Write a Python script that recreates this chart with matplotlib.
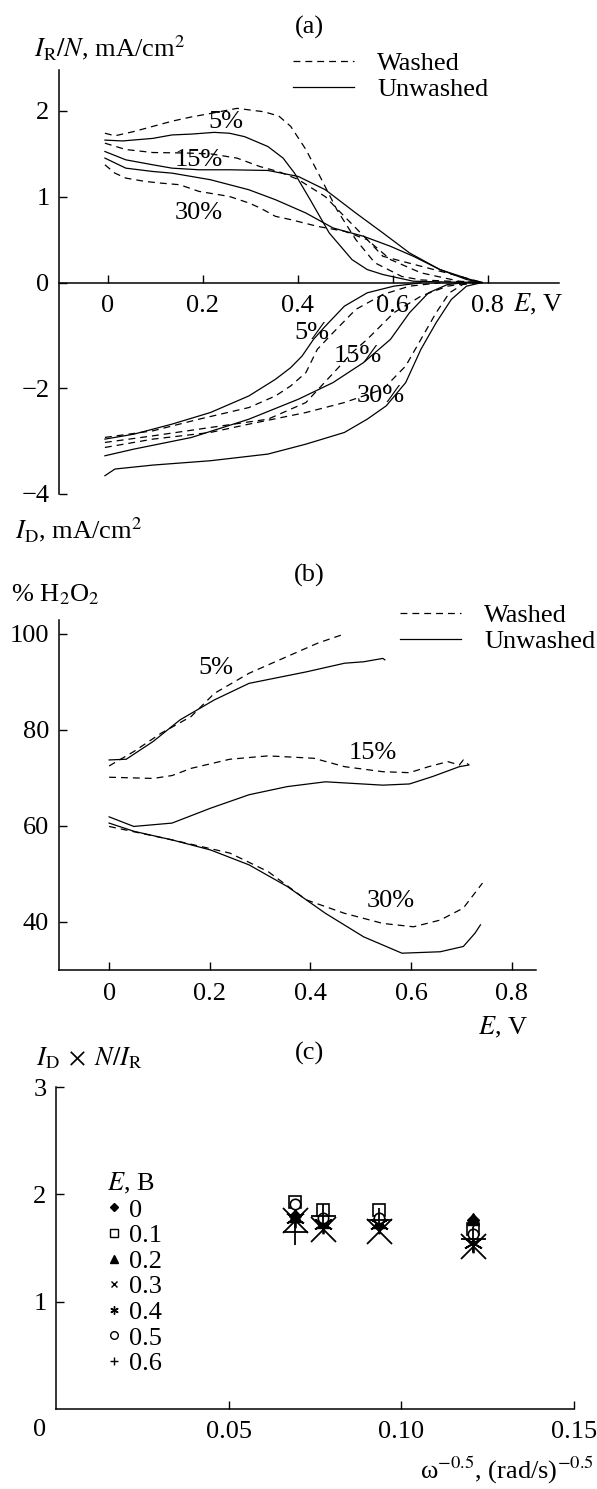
# -*- coding: utf-8 -*-
# RRDE data: ring / disk currents, % H2O2 and ID*N/IR for washed / unwashed catalysts

import numpy as np
import matplotlib
matplotlib.use('Agg')
import matplotlib.pyplot as plt
from matplotlib.lines import Line2D

plt.rcParams['font.family'] = ['Liberation Serif', 'DejaVu Serif']
plt.rcParams['mathtext.fontset'] = 'stix'

#====================================================================
# (a) ring current I_R/N (positive) and disk current I_D (negative), mA/cm2
ring_w5_E = [-0.006, 0.015, 0.055, 0.095, 0.135, 0.176, 0.216, 0.272, 0.329, 0.36, 0.385, 0.417, 0.45, 0.482, 0.522, 0.562, 0.619, 0.659, 0.74, 0.785]
ring_w5_I = [1.74, 1.71, 1.76, 1.82, 1.88, 1.93, 1.97, 2.03, 1.99, 1.94, 1.82, 1.55, 1.20, 0.85, 0.50, 0.23, 0.07, 0.03, 0.01, 0.0]
ring_u5_E = [-0.006, 0.031, 0.095, 0.135, 0.176, 0.224, 0.256, 0.288, 0.337, 0.369, 0.393, 0.426, 0.466, 0.514, 0.546, 0.579, 0.643, 0.72, 0.785]
ring_u5_I = [1.66, 1.65, 1.68, 1.72, 1.73, 1.75, 1.74, 1.70, 1.585, 1.45, 1.275, 0.965, 0.578, 0.267, 0.151, 0.093, 0.015, 0.005, 0.0]
ring_w15_E = [-0.006, 0.038, 0.095, 0.159, 0.216, 0.272, 0.321, 0.361, 0.401, 0.458, 0.498, 0.546, 0.595, 0.659, 0.74, 0.785]
ring_w15_I = [1.624, 1.55, 1.515, 1.51, 1.50, 1.45, 1.35, 1.29, 1.20, 1.00, 0.77, 0.50, 0.267, 0.113, 0.015, 0.0]
ring_u15_E = [-0.006, 0.038, 0.095, 0.135, 0.192, 0.256, 0.337, 0.401, 0.458, 0.522, 0.579, 0.635, 0.699, 0.763, 0.788]
ring_u15_I = [1.527, 1.43, 1.372, 1.333, 1.314, 1.314, 1.306, 1.236, 1.081, 0.81, 0.578, 0.345, 0.151, 0.035, 0.0]
ring_u30_E = [-0.006, 0.038, 0.095, 0.135, 0.216, 0.297, 0.353, 0.417, 0.474, 0.538, 0.595, 0.643, 0.699, 0.755, 0.788]
ring_u30_I = [1.45, 1.333, 1.294, 1.275, 1.198, 1.081, 0.965, 0.81, 0.636, 0.539, 0.422, 0.306, 0.151, 0.035, 0.0]
ring_w30_E = [-0.006, 0.015, 0.038, 0.079, 0.111, 0.151, 0.192, 0.256, 0.297, 0.321, 0.353, 0.385, 0.441, 0.498, 0.546, 0.579, 0.659, 0.74, 0.788]
ring_w30_I = [1.372, 1.275, 1.217, 1.178, 1.159, 1.14, 1.062, 1.003, 0.927, 0.868, 0.771, 0.733, 0.655, 0.597, 0.50, 0.306, 0.19, 0.073, 0.0]

disk_u5_E = [-0.006, 0.055, 0.135, 0.216, 0.297, 0.353, 0.385, 0.409, 0.433, 0.458, 0.498, 0.546, 0.602, 0.659]
disk_u5_I = [-2.962, -2.868, -2.679, -2.459, -2.145, -1.83, -1.61, -1.39, -1.075, -0.824, -0.447, -0.195, -0.069, -0.006]
disk_w5_E = [-0.006, 0.095, 0.192, 0.297, 0.353, 0.385, 0.417, 0.441, 0.474, 0.522, 0.579, 0.635, 0.699]
disk_w5_I = [-2.93, -2.805, -2.585, -2.365, -2.145, -1.956, -1.704, -1.264, -0.95, -0.509, -0.226, -0.069, -0.006]
disk_w15_E = [-0.006, 0.095, 0.216, 0.337, 0.417, 0.482, 0.514, 0.546, 0.602, 0.659, 0.715, 0.764]
disk_w15_I = [-3.025, -2.9, -2.742, -2.585, -2.27, -1.642, -1.327, -1.075, -0.572, -0.258, -0.069, -0.006]
disk_u15_E = [-0.006, 0.055, 0.176, 0.297, 0.401, 0.474, 0.538, 0.595, 0.635, 0.675, 0.715, 0.755]
disk_u15_I = [-3.277, -3.151, -2.931, -2.585, -2.208, -1.893, -1.516, -1.075, -0.572, -0.195, -0.038, 0.0]
disk_w30_E = [-0.006, 0.095, 0.216, 0.297, 0.417, 0.498, 0.579, 0.627, 0.659, 0.691, 0.719, 0.747, 0.779]
disk_w30_I = [-3.12, -2.962, -2.836, -2.679, -2.459, -2.27, -2.019, -1.579, -1.075, -0.572, -0.195, -0.038, 0.0]
disk_u30_E = [-0.006, 0.015, 0.095, 0.216, 0.337, 0.417, 0.498, 0.546, 0.586, 0.627, 0.659, 0.691, 0.723, 0.755, 0.788]
disk_u30_I = [-3.654, -3.528, -3.453, -3.371, -3.245, -3.057, -2.836, -2.585, -2.333, -1.893, -1.264, -0.761, -0.321, -0.069, 0.0]

# curve labels in (a): (E, value)
a_label_text = ['5%', '15%', '30%', '5%', '15%', '30%']
a_label_E = [0.248, 0.192, 0.192, 0.429, 0.526, 0.575]
a_label_y = [1.87, 1.43, 0.81, -0.95, -1.39, -2.145]

# (b) % H2O2
h_w5_E = [0.0, 0.049, 0.103, 0.163, 0.209, 0.278, 0.354, 0.415, 0.468]
h_w5_P = [72.5, 75.5, 79.3, 82.8, 87.6, 91.8, 95.3, 98.1, 100.0]
h_u5_E = [0.0, 0.034, 0.0875, 0.141, 0.209, 0.278, 0.354, 0.392, 0.468, 0.506, 0.544, 0.548]
h_u5_P = [73.75, 73.9, 77.6, 82.1, 86.25, 89.7, 91.3, 92.1, 93.9, 94.2, 94.9, 94.6]
h_w15_E = [0.0, 0.0875, 0.125, 0.163, 0.24, 0.316, 0.407, 0.468, 0.544, 0.597, 0.635, 0.673, 0.696, 0.704, 0.715]
h_w15_P = [70.15, 69.9, 70.5, 72.0, 73.9, 74.6, 74.1, 72.35, 71.3, 71.1, 72.35, 73.4, 72.7, 73.75, 72.7]
h_u15_E = [0.0, 0.049, 0.125, 0.2016, 0.278, 0.354, 0.43, 0.544, 0.597, 0.643, 0.696, 0.715]
h_u15_P = [61.9, 59.9, 60.6, 63.7, 66.5, 68.2, 69.2, 68.5, 68.75, 70.3, 72.35, 72.7]
h_u30_E = [0.0, 0.049, 0.125, 0.2016, 0.278, 0.354, 0.43, 0.506, 0.582, 0.658, 0.704, 0.727, 0.738]
h_u30_P = [60.6, 58.9, 57.1, 55.0, 51.9, 47.4, 41.8, 36.9, 33.5, 33.8, 34.9, 37.65, 39.4]
h_w30_E = [0.0, 0.125, 0.24, 0.316, 0.392, 0.468, 0.544, 0.605, 0.658, 0.704, 0.742]
h_w30_P = [59.9, 57.1, 54.35, 50.5, 44.6, 41.8, 39.7, 39.0, 40.4, 42.9, 48.1]

b_label_text = ['5%', '15%', '30%']
b_label_E = [0.213, 0.525, 0.559]
b_label_y = [92.8, 75.3, 44.3]

# (c) ID*N/IR vs omega^-0.5 for several potentials
omega_inv = [0.0691, 0.0774, 0.0935, 0.1206]
potentials = ['0', '0.1', '0.2', '0.3', '0.4', '0.5', '0.6']
ratio = {
    '0':   [1.80, 1.73, 1.77, 1.76],
    '0.1': [1.93, 1.85, 1.85, 1.68],
    '0.2': [1.80, 1.74, 1.74, 1.77],
    '0.3': [1.76, 1.68, 1.66, 1.52],
    '0.4': [1.78, 1.72, 1.72, 1.55],
    '0.5': [1.91, 1.78, 1.78, 1.63],
    '0.6': [1.65, 1.80, 1.76, 1.58],
}
#====================================================================

W, H = 597, 1489
DASH = (0, (5.5, 4))
LW = 0.9
FS_TICK = 19
FS_TEXT = 19
POS_K = 86.0 / 53.0   # positive half of (a) is drawn on a larger scale


def fp(x, y):
    # pixel -> figure fraction
    return x / W, 1 - y / H


def fwd(y):
    y = np.asarray(y, dtype=float)
    return np.where(y > 0, y * POS_K, y)


def inv(v):
    v = np.asarray(v, dtype=float)
    return np.where(v > 0, v / POS_K, v)


def style_axes(ax):
    ax.spines['top'].set_visible(False)
    ax.spines['right'].set_visible(False)
    for s in ('left', 'bottom'):
        ax.spines[s].set_linewidth(1.1)
    ax.tick_params(direction='in', length=6, width=1.0, labelsize=FS_TICK)
    ax.patch.set_alpha(0)


def wu_legend(ax, x, y):
    handles = [Line2D([], [], color='k', lw=LW, ls=DASH),
               Line2D([], [], color='k', lw=LW)]
    ax.legend(handles, ['Washed', 'Unwashed'], loc='upper left',
              bbox_to_anchor=fp(x, y), bbox_transform=ax.figure.transFigure,
              frameon=False, borderpad=0, borderaxespad=0, fontsize=FS_TEXT,
              handlelength=2.3, handletextpad=0.9, labelspacing=0.08)


def panel_a(fig):
    ax = fig.add_axes([59.3 / W, 1 - 494 / H, 499.4 / W, 424 / H])
    ax.set_yscale('function', functions=(fwd, inv))
    curves = [(ring_w5_E, ring_w5_I, DASH), (ring_u5_E, ring_u5_I, '-'),
              (ring_w15_E, ring_w15_I, DASH), (ring_u15_E, ring_u15_I, '-'),
              (ring_w30_E, ring_w30_I, DASH), (ring_u30_E, ring_u30_I, '-'),
              (disk_w5_E, disk_w5_I, DASH), (disk_u5_E, disk_u5_I, '-'),
              (disk_w15_E, disk_w15_I, DASH), (disk_u15_E, disk_u15_I, '-'),
              (disk_w30_E, disk_w30_I, DASH), (disk_u30_E, disk_u30_I, '-')]
    for e, i, ls in curves:
        ax.plot(e, i, color='k', lw=LW, ls=ls)
    for t, e, y in zip(a_label_text, a_label_E, a_label_y):
        ax.text(e, y, t, ha='center', va='center', fontsize=FS_TEXT)
    ax.set_xlim(-0.102, 0.949)
    ax.set_ylim(-4, 2.477)
    style_axes(ax)
    ax.spines['bottom'].set_position(('data', 0))
    ax.set_xticks([0, 0.2, 0.4, 0.6, 0.8])
    ax.set_xticklabels(['0', '0.2', '0.4', '0.6', '0.8'])
    ax.set_yticks([-4, -2, 0, 1, 2])
    ax.set_yticklabels(['\u22124', '\u22122', '0', '1', '2'])
    ax.tick_params(axis='x', pad=9)
    ax.tick_params(axis='y', pad=7)
    wu_legend(ax, 293, 52)
    fig.text(*fp(309, 27), '(a)', ha='center', va='center', fontsize=FS_TEXT)
    fig.text(*fp(34, 48), r'$I_{\rm R}/N$, mA/cm$^2$', ha='left', va='center', fontsize=FS_TEXT)
    fig.text(*fp(513, 304), r'$E$, V', ha='left', va='center', fontsize=FS_TEXT)
    fig.text(*fp(15, 530), r'$I_{\rm D}$, mA/cm$^2$', ha='left', va='center', fontsize=FS_TEXT)


def panel_b(fig):
    ax = fig.add_axes([58.6 / W, 1 - 970 / H, 477.2 / W, 350 / H])
    curves = [(h_w5_E, h_w5_P, DASH), (h_u5_E, h_u5_P, '-'),
              (h_w15_E, h_w15_P, DASH), (h_u15_E, h_u15_P, '-'),
              (h_w30_E, h_w30_P, DASH), (h_u30_E, h_u30_P, '-')]
    for e, p, ls in curves:
        ax.plot(e, p, color='k', lw=LW, ls=ls)
    for t, e, y in zip(b_label_text, b_label_E, b_label_y):
        ax.text(e, y, t, ha='center', va='center', fontsize=FS_TEXT)
    ax.set_xlim(-0.1004, 0.848)
    ax.set_ylim(30, 102.9)
    style_axes(ax)
    ax.set_xticks([0, 0.2, 0.4, 0.6, 0.8])
    ax.set_xticklabels(['0', '0.2', '0.4', '0.6', '0.8'])
    ax.set_yticks([40, 60, 80, 100])
    ax.tick_params(axis='x', pad=9)
    ax.tick_params(axis='y', pad=7)
    wu_legend(ax, 400, 604)
    fig.text(*fp(309, 575), '(b)', ha='center', va='center', fontsize=FS_TEXT)
    fig.text(*fp(11, 595), r'% H$_2$O$_2$', ha='left', va='center', fontsize=FS_TEXT)
    fig.text(*fp(528, 1027), r'$E$, V', ha='right', va='center', fontsize=FS_TEXT)


def panel_c(fig):
    ax = fig.add_axes([56.3 / W, 1 - 1409 / H, 517.7 / W, 322 / H])
    marks = {
        '0':   dict(marker='D', ms=6, mfc='k', mec='k'),
        '0.1': dict(marker='s', ms=8, mfc='none', mec='k', mew=1.2),
        '0.2': dict(marker='^', ms=8, mfc='k', mec='k'),
        '0.3': dict(marker='x', ms=18, mec='k', mew=1.3),
        '0.4': dict(marker=(6, 2, 0), ms=14, mec='k', mew=1.3),
        '0.5': dict(marker='o', ms=7.5, mfc='white', mec='k', mew=1.2),
        '0.6': dict(marker='+', ms=18, mec='k', mew=1.3),
    }
    small = {
        '0':   dict(marker='D', ms=4.5, mfc='k', mec='k'),
        '0.1': dict(marker='s', ms=5.5, mfc='none', mec='k', mew=1.0),
        '0.2': dict(marker='^', ms=6, mfc='k', mec='k'),
        '0.3': dict(marker='x', ms=5, mec='k', mew=1.0),
        '0.4': dict(marker=(6, 2, 0), ms=6, mec='k', mew=1.0),
        '0.5': dict(marker='o', ms=5.5, mfc='none', mec='k', mew=1.0),
        '0.6': dict(marker='+', ms=6, mec='k', mew=1.0),
    }
    for p in potentials:
        ax.plot(omega_inv, ratio[p], ls='none', color='k', **marks[p])
    handles = [Line2D([], [], ls='none', color='k', **small[p]) for p in potentials]
    ax.legend(handles, potentials, title=r'$E$, B', title_fontsize=FS_TICK,
              loc='upper left', bbox_to_anchor=fp(107, 1171), bbox_transform=fig.transFigure,
              frameon=False, borderpad=0, borderaxespad=0, fontsize=FS_TICK,
              handlelength=0.55, handletextpad=0.3, labelspacing=0.08, alignment='left')
    ax.set_xlim(0, 0.15)
    ax.set_ylim(0, 3)
    style_axes(ax)
    ax.set_xticks([0.05, 0.10, 0.15])
    ax.set_xticklabels(['0.05', '0.10', '0.15'])
    ax.set_yticks([1, 2, 3])
    ax.tick_params(axis='x', pad=9)
    ax.tick_params(axis='y', pad=7)
    fig.text(*fp(40, 1430), '0', ha='center', va='center', fontsize=FS_TICK)
    fig.text(*fp(309, 1053), '(c)', ha='center', va='center', fontsize=FS_TEXT)
    fig.text(*fp(36, 1058), r'$I_{\rm D}\;\times\;N/I_{\rm R}$', ha='left', va='center', fontsize=FS_TEXT)
    fig.text(*fp(594, 1470), '\u03c9$^{-0.5}$, (rad/s)$^{-0.5}$', ha='right', va='center', fontsize=FS_TEXT)


def main():
    fig = plt.figure(figsize=(W / 100, H / 100), dpi=100)
    panel_a(fig)
    panel_b(fig)
    panel_c(fig)
    fig.savefig('out.png', dpi=100, facecolor='white')


if __name__ == '__main__':
    main()
